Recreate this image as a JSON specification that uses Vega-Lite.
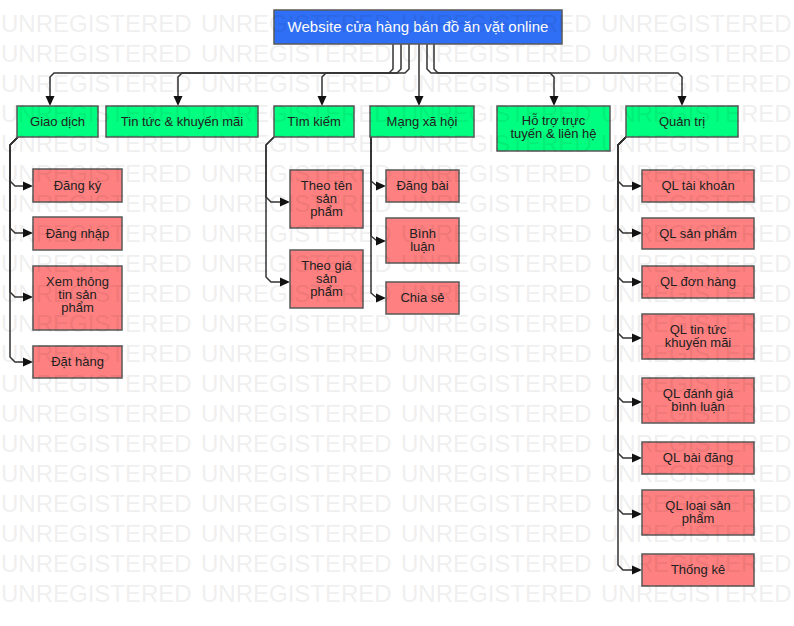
{
  "$schema": "https://vega.github.io/schema/vega-lite/v6.json",
  "width": 794,
  "height": 626,
  "padding": 0,
  "autosize": {"type": "fit", "contains": "padding"},
  "background": "white",
  "config": {"view": {"stroke": null}},
  "datasets": {
    "boxes": [
      {"name": "Website cửa hàng bán đồ ăn vặt online", "kind": "root", "x1": 274, "x2": 562, "y1": 10, "y2": 44},
      {"name": "Giao dịch", "kind": "l1", "x1": 17, "x2": 98, "y1": 106, "y2": 137},
      {"name": "Tin tức & khuyến mãi", "kind": "l1", "x1": 106, "x2": 258, "y1": 106, "y2": 137},
      {"name": "Tìm kiếm", "kind": "l1", "x1": 274, "x2": 354, "y1": 106, "y2": 137},
      {"name": "Mạng xã hội", "kind": "l1", "x1": 370, "x2": 474, "y1": 106, "y2": 137},
      {"name": "Hỗ trợ trực tuyến & liên hệ", "kind": "l1", "x1": 497, "x2": 610, "y1": 106, "y2": 151},
      {"name": "Quản trị", "kind": "l1", "x1": 626, "x2": 738, "y1": 106, "y2": 137},
      {"name": "Đăng ký", "kind": "l2", "x1": 33, "x2": 122, "y1": 169, "y2": 202},
      {"name": "Đăng nhập", "kind": "l2", "x1": 33, "x2": 122, "y1": 217, "y2": 250},
      {"name": "Xem thông tin sản phẩm", "kind": "l2", "x1": 33, "x2": 122, "y1": 266, "y2": 330},
      {"name": "Đặt hàng", "kind": "l2", "x1": 33, "x2": 122, "y1": 346, "y2": 378},
      {"name": "Theo tên sản phẩm", "kind": "l2", "x1": 290, "x2": 363, "y1": 170, "y2": 228},
      {"name": "Theo giá sản phẩm", "kind": "l2", "x1": 290, "x2": 363, "y1": 250, "y2": 308},
      {"name": "Đăng bài", "kind": "l2", "x1": 386, "x2": 459, "y1": 170, "y2": 202},
      {"name": "Bình luận", "kind": "l2", "x1": 386, "x2": 459, "y1": 218, "y2": 263},
      {"name": "Chia sẻ", "kind": "l2", "x1": 386, "x2": 459, "y1": 282, "y2": 314},
      {"name": "QL tài khoản", "kind": "l2", "x1": 642, "x2": 754, "y1": 170, "y2": 202},
      {"name": "QL sản phẩm", "kind": "l2", "x1": 642, "x2": 754, "y1": 218, "y2": 249},
      {"name": "QL đơn hàng", "kind": "l2", "x1": 642, "x2": 754, "y1": 266, "y2": 298},
      {"name": "QL tin tức khuyến mãi", "kind": "l2", "x1": 642, "x2": 754, "y1": 314, "y2": 359},
      {"name": "QL đánh giá bình luận", "kind": "l2", "x1": 642, "x2": 754, "y1": 378, "y2": 423},
      {"name": "QL bài đăng", "kind": "l2", "x1": 642, "x2": 754, "y1": 442, "y2": 474},
      {"name": "QL loại sản phẩm", "kind": "l2", "x1": 642, "x2": 754, "y1": 490, "y2": 535},
      {"name": "Thống kê", "kind": "l2", "x1": 642, "x2": 754, "y1": 554, "y2": 586}
    ],
    "labels": [
      {"t": "Website cửa hàng bán đồ ăn vặt online", "kind": "root", "x": 418, "y": 27},
      {"t": "Giao dịch", "kind": "l1", "x": 57.5, "y": 121.5},
      {"t": "Tin tức & khuyến mãi", "kind": "l1", "x": 182, "y": 121.5},
      {"t": "Tìm kiếm", "kind": "l1", "x": 314, "y": 121.5},
      {"t": "Mạng xã hội", "kind": "l1", "x": 422, "y": 121.5},
      {"t": "Hỗ trợ trực", "kind": "l1", "x": 553.5, "y": 121},
      {"t": "tuyến & liên hệ", "kind": "l1", "x": 553.5, "y": 134},
      {"t": "Quản trị", "kind": "l1", "x": 682, "y": 121.5},
      {"t": "Đăng ký", "kind": "l2", "x": 77.5, "y": 185.5},
      {"t": "Đăng nhập", "kind": "l2", "x": 77.5, "y": 233.5},
      {"t": "Xem thông", "kind": "l2", "x": 77.5, "y": 282},
      {"t": "tin sản", "kind": "l2", "x": 77.5, "y": 295},
      {"t": "phẩm", "kind": "l2", "x": 77.5, "y": 307.5},
      {"t": "Đặt hàng", "kind": "l2", "x": 77.5, "y": 362},
      {"t": "Theo tên", "kind": "l2", "x": 326.5, "y": 186},
      {"t": "sản", "kind": "l2", "x": 326.5, "y": 199},
      {"t": "phẩm", "kind": "l2", "x": 326.5, "y": 212},
      {"t": "Theo giá", "kind": "l2", "x": 326.5, "y": 266},
      {"t": "sản", "kind": "l2", "x": 326.5, "y": 279},
      {"t": "phẩm", "kind": "l2", "x": 326.5, "y": 292},
      {"t": "Đăng bài", "kind": "l2", "x": 422.5, "y": 186},
      {"t": "Bình", "kind": "l2", "x": 422.5, "y": 233.5},
      {"t": "luận", "kind": "l2", "x": 422.5, "y": 246.5},
      {"t": "Chia sẻ", "kind": "l2", "x": 422.5, "y": 298},
      {"t": "QL tài khoản", "kind": "l2", "x": 698, "y": 186},
      {"t": "QL sản phẩm", "kind": "l2", "x": 698, "y": 233.5},
      {"t": "QL đơn hàng", "kind": "l2", "x": 698, "y": 282},
      {"t": "QL tin tức", "kind": "l2", "x": 698, "y": 329.5},
      {"t": "khuyến mãi", "kind": "l2", "x": 698, "y": 342.5},
      {"t": "QL đánh giá", "kind": "l2", "x": 698, "y": 394},
      {"t": "bình luận", "kind": "l2", "x": 698, "y": 407},
      {"t": "QL bài đăng", "kind": "l2", "x": 698, "y": 458},
      {"t": "QL loại sản", "kind": "l2", "x": 698, "y": 506},
      {"t": "phẩm", "kind": "l2", "x": 698, "y": 519},
      {"t": "Thống kê", "kind": "l2", "x": 698, "y": 570}
    ],
    "edges": [
      {"e": 1, "s": 1, "x": 393, "y": 44}, {"e": 1, "s": 2, "x": 393, "y": 69}, {"e": 1, "s": 3, "x": 389, "y": 73}, {"e": 1, "s": 4, "x": 54, "y": 73}, {"e": 1, "s": 5, "x": 50, "y": 77}, {"e": 1, "s": 6, "x": 50, "y": 97},
      {"e": 2, "s": 1, "x": 401, "y": 44}, {"e": 2, "s": 2, "x": 401, "y": 69}, {"e": 2, "s": 3, "x": 397, "y": 73}, {"e": 2, "s": 4, "x": 182, "y": 73}, {"e": 2, "s": 5, "x": 178, "y": 77}, {"e": 2, "s": 6, "x": 178, "y": 97},
      {"e": 3, "s": 1, "x": 409, "y": 44}, {"e": 3, "s": 2, "x": 409, "y": 69}, {"e": 3, "s": 3, "x": 405, "y": 73}, {"e": 3, "s": 4, "x": 326, "y": 73}, {"e": 3, "s": 5, "x": 322, "y": 77}, {"e": 3, "s": 6, "x": 322, "y": 97},
      {"e": 4, "s": 1, "x": 419, "y": 44}, {"e": 4, "s": 2, "x": 419, "y": 97},
      {"e": 5, "s": 1, "x": 427, "y": 44}, {"e": 5, "s": 2, "x": 427, "y": 69}, {"e": 5, "s": 3, "x": 431, "y": 73}, {"e": 5, "s": 4, "x": 550, "y": 73}, {"e": 5, "s": 5, "x": 554, "y": 77}, {"e": 5, "s": 6, "x": 554, "y": 97},
      {"e": 6, "s": 1, "x": 434, "y": 44}, {"e": 6, "s": 2, "x": 434, "y": 69}, {"e": 6, "s": 3, "x": 438, "y": 73}, {"e": 6, "s": 4, "x": 678, "y": 73}, {"e": 6, "s": 5, "x": 682, "y": 77}, {"e": 6, "s": 6, "x": 682, "y": 97},
      {"e": 7, "s": 1, "x": 18, "y": 137}, {"e": 7, "s": 2, "x": 10, "y": 145}, {"e": 7, "s": 3, "x": 10, "y": 181}, {"e": 7, "s": 4, "x": 15, "y": 186}, {"e": 7, "s": 5, "x": 25, "y": 186},
      {"e": 8, "s": 1, "x": 18, "y": 137}, {"e": 8, "s": 2, "x": 10, "y": 145}, {"e": 8, "s": 3, "x": 10, "y": 228}, {"e": 8, "s": 4, "x": 15, "y": 233}, {"e": 8, "s": 5, "x": 25, "y": 233},
      {"e": 9, "s": 1, "x": 18, "y": 137}, {"e": 9, "s": 2, "x": 10, "y": 145}, {"e": 9, "s": 3, "x": 10, "y": 292}, {"e": 9, "s": 4, "x": 15, "y": 297}, {"e": 9, "s": 5, "x": 25, "y": 297},
      {"e": 10, "s": 1, "x": 18, "y": 137}, {"e": 10, "s": 2, "x": 10, "y": 145}, {"e": 10, "s": 3, "x": 10, "y": 357}, {"e": 10, "s": 4, "x": 15, "y": 362}, {"e": 10, "s": 5, "x": 25, "y": 362},
      {"e": 11, "s": 1, "x": 274, "y": 137}, {"e": 11, "s": 2, "x": 266, "y": 145}, {"e": 11, "s": 3, "x": 266, "y": 197}, {"e": 11, "s": 4, "x": 271, "y": 202}, {"e": 11, "s": 5, "x": 281, "y": 202},
      {"e": 12, "s": 1, "x": 274, "y": 137}, {"e": 12, "s": 2, "x": 266, "y": 145}, {"e": 12, "s": 3, "x": 266, "y": 277}, {"e": 12, "s": 4, "x": 271, "y": 282}, {"e": 12, "s": 5, "x": 281, "y": 282},
      {"e": 13, "s": 1, "x": 371, "y": 137}, {"e": 13, "s": 2, "x": 371, "y": 181}, {"e": 13, "s": 3, "x": 377, "y": 186},
      {"e": 14, "s": 1, "x": 371, "y": 137}, {"e": 14, "s": 2, "x": 371, "y": 236}, {"e": 14, "s": 3, "x": 377, "y": 241},
      {"e": 15, "s": 1, "x": 371, "y": 137}, {"e": 15, "s": 2, "x": 371, "y": 293}, {"e": 15, "s": 3, "x": 377, "y": 298},
      {"e": 16, "s": 1, "x": 626, "y": 137}, {"e": 16, "s": 2, "x": 618, "y": 145}, {"e": 16, "s": 3, "x": 618, "y": 181}, {"e": 16, "s": 4, "x": 623, "y": 186}, {"e": 16, "s": 5, "x": 633, "y": 186},
      {"e": 17, "s": 1, "x": 626, "y": 137}, {"e": 17, "s": 2, "x": 618, "y": 145}, {"e": 17, "s": 3, "x": 618, "y": 228}, {"e": 17, "s": 4, "x": 623, "y": 233}, {"e": 17, "s": 5, "x": 633, "y": 233},
      {"e": 18, "s": 1, "x": 626, "y": 137}, {"e": 18, "s": 2, "x": 618, "y": 145}, {"e": 18, "s": 3, "x": 618, "y": 277}, {"e": 18, "s": 4, "x": 623, "y": 282}, {"e": 18, "s": 5, "x": 633, "y": 282},
      {"e": 19, "s": 1, "x": 626, "y": 137}, {"e": 19, "s": 2, "x": 618, "y": 145}, {"e": 19, "s": 3, "x": 618, "y": 333}, {"e": 19, "s": 4, "x": 623, "y": 338}, {"e": 19, "s": 5, "x": 633, "y": 338},
      {"e": 20, "s": 1, "x": 626, "y": 137}, {"e": 20, "s": 2, "x": 618, "y": 145}, {"e": 20, "s": 3, "x": 618, "y": 397}, {"e": 20, "s": 4, "x": 623, "y": 402}, {"e": 20, "s": 5, "x": 633, "y": 402},
      {"e": 21, "s": 1, "x": 626, "y": 137}, {"e": 21, "s": 2, "x": 618, "y": 145}, {"e": 21, "s": 3, "x": 618, "y": 453}, {"e": 21, "s": 4, "x": 623, "y": 458}, {"e": 21, "s": 5, "x": 633, "y": 458},
      {"e": 22, "s": 1, "x": 626, "y": 137}, {"e": 22, "s": 2, "x": 618, "y": 145}, {"e": 22, "s": 3, "x": 618, "y": 509}, {"e": 22, "s": 4, "x": 623, "y": 514}, {"e": 22, "s": 5, "x": 633, "y": 514},
      {"e": 23, "s": 1, "x": 626, "y": 137}, {"e": 23, "s": 2, "x": 618, "y": 145}, {"e": 23, "s": 3, "x": 618, "y": 565}, {"e": 23, "s": 4, "x": 623, "y": 570}, {"e": 23, "s": 5, "x": 633, "y": 570}
    ],
    "arrows": [
      {"dir": "down", "x": 50, "y": 101}, {"dir": "down", "x": 178, "y": 101}, {"dir": "down", "x": 322, "y": 101},
      {"dir": "down", "x": 419, "y": 101}, {"dir": "down", "x": 554, "y": 101}, {"dir": "down", "x": 682, "y": 101},
      {"dir": "right", "x": 28, "y": 186}, {"dir": "right", "x": 28, "y": 233}, {"dir": "right", "x": 28, "y": 297}, {"dir": "right", "x": 28, "y": 362},
      {"dir": "right", "x": 285, "y": 202}, {"dir": "right", "x": 285, "y": 282},
      {"dir": "right", "x": 381, "y": 186}, {"dir": "right", "x": 381, "y": 241}, {"dir": "right", "x": 381, "y": 298},
      {"dir": "right", "x": 637, "y": 186}, {"dir": "right", "x": 637, "y": 233}, {"dir": "right", "x": 637, "y": 282}, {"dir": "right", "x": 637, "y": 338},
      {"dir": "right", "x": 637, "y": 402}, {"dir": "right", "x": 637, "y": 458}, {"dir": "right", "x": 637, "y": 514}, {"dir": "right", "x": 637, "y": 570}
    ],
    "watermark": [
      {"x": 1, "y": 32}, {"x": 201, "y": 32}, {"x": 401, "y": 32}, {"x": 601, "y": 32},
      {"x": 1, "y": 62}, {"x": 201, "y": 62}, {"x": 401, "y": 62}, {"x": 601, "y": 62},
      {"x": 1, "y": 92}, {"x": 201, "y": 92}, {"x": 401, "y": 92}, {"x": 601, "y": 92},
      {"x": 1, "y": 122}, {"x": 201, "y": 122}, {"x": 401, "y": 122}, {"x": 601, "y": 122},
      {"x": 1, "y": 152}, {"x": 201, "y": 152}, {"x": 401, "y": 152}, {"x": 601, "y": 152},
      {"x": 1, "y": 182}, {"x": 201, "y": 182}, {"x": 401, "y": 182}, {"x": 601, "y": 182},
      {"x": 1, "y": 212}, {"x": 201, "y": 212}, {"x": 401, "y": 212}, {"x": 601, "y": 212},
      {"x": 1, "y": 242}, {"x": 201, "y": 242}, {"x": 401, "y": 242}, {"x": 601, "y": 242},
      {"x": 1, "y": 272}, {"x": 201, "y": 272}, {"x": 401, "y": 272}, {"x": 601, "y": 272},
      {"x": 1, "y": 302}, {"x": 201, "y": 302}, {"x": 401, "y": 302}, {"x": 601, "y": 302},
      {"x": 1, "y": 332}, {"x": 201, "y": 332}, {"x": 401, "y": 332}, {"x": 601, "y": 332},
      {"x": 1, "y": 362}, {"x": 201, "y": 362}, {"x": 401, "y": 362}, {"x": 601, "y": 362},
      {"x": 1, "y": 392}, {"x": 201, "y": 392}, {"x": 401, "y": 392}, {"x": 601, "y": 392},
      {"x": 1, "y": 422}, {"x": 201, "y": 422}, {"x": 401, "y": 422}, {"x": 601, "y": 422},
      {"x": 1, "y": 452}, {"x": 201, "y": 452}, {"x": 401, "y": 452}, {"x": 601, "y": 452},
      {"x": 1, "y": 482}, {"x": 201, "y": 482}, {"x": 401, "y": 482}, {"x": 601, "y": 482},
      {"x": 1, "y": 512}, {"x": 201, "y": 512}, {"x": 401, "y": 512}, {"x": 601, "y": 512},
      {"x": 1, "y": 542}, {"x": 201, "y": 542}, {"x": 401, "y": 542}, {"x": 601, "y": 542},
      {"x": 1, "y": 572}, {"x": 201, "y": 572}, {"x": 401, "y": 572}, {"x": 601, "y": 572},
      {"x": 1, "y": 602}, {"x": 201, "y": 602}, {"x": 401, "y": 602}, {"x": 601, "y": 602}
    ]
  },
  "layer": [
    {
      "data": {"name": "edges"},
      "mark": {"type": "line", "stroke": "#333333", "strokeWidth": 1.5, "interpolate": "linear"},
      "encoding": {
        "x": {"field": "x", "type": "quantitative", "scale": {"domain": [0, 794], "nice": false, "zero": false}, "axis": null},
        "y": {"field": "y", "type": "quantitative", "scale": {"domain": [0, 626], "reverse": true, "nice": false, "zero": false}, "axis": null},
        "detail": {"field": "e", "type": "nominal"},
        "order": {"field": "s", "type": "quantitative"}
      }
    },
    {
      "data": {"name": "arrows"},
      "mark": {"type": "point", "filled": true, "fill": "#111111", "stroke": null, "size": 100, "opacity": 1},
      "encoding": {
        "x": {"field": "x", "type": "quantitative"},
        "y": {"field": "y", "type": "quantitative"},
        "shape": {"field": "dir", "type": "nominal", "scale": {"domain": ["down", "right"], "range": ["M-0.9,-1L0.9,-1L0,1Z", "M-1,-0.9L1,0L-1,0.9Z"]}, "legend": null}
      }
    },
    {
      "data": {"name": "boxes"},
      "mark": {"type": "rect", "stroke": "#5a5a5a", "strokeWidth": 1.5},
      "encoding": {
        "x": {"field": "x1", "type": "quantitative"},
        "x2": {"field": "x2"},
        "y": {"field": "y1", "type": "quantitative"},
        "y2": {"field": "y2"},
        "fill": {"field": "kind", "type": "nominal", "scale": {"domain": ["root", "l1", "l2"], "range": ["#2f6ff5", "#00ff80", "#ff8080"]}, "legend": null}
      }
    },
    {
      "data": {"name": "labels"},
      "mark": {"type": "text", "align": "center", "baseline": "middle", "font": "Liberation Sans"},
      "encoding": {
        "x": {"field": "x", "type": "quantitative"},
        "y": {"field": "y", "type": "quantitative"},
        "text": {"field": "t", "type": "nominal"},
        "color": {"condition": {"test": "datum.kind === 'root'", "value": "#ffffff"}, "value": "#222222"},
        "size": {"condition": {"test": "datum.kind === 'root'", "value": 15}, "value": 13}
      }
    },
    {
      "data": {"name": "watermark"},
      "mark": {"type": "text", "text": "UNREGISTERED", "align": "left", "baseline": "alphabetic", "font": "Liberation Sans", "fontSize": 24, "fill": "#000000", "opacity": 0.06},
      "encoding": {
        "x": {"field": "x", "type": "quantitative"},
        "y": {"field": "y", "type": "quantitative"}
      }
    }
  ]
}
